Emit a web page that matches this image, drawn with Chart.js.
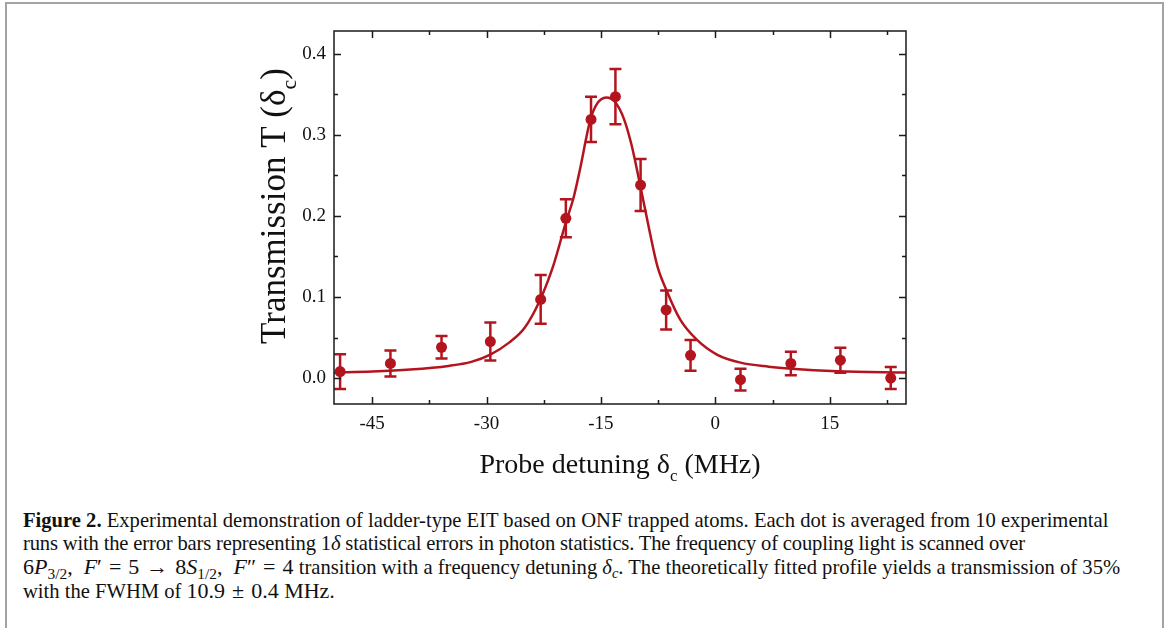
<!DOCTYPE html>
<html>
<head>
<meta charset="utf-8">
<script src="https://cdn.jsdelivr.net/npm/chart.js@4.4.1/dist/chart.umd.min.js"></script>
<style>
  html, body { margin: 0; padding: 0; background: #fff; }
  body { width: 1168px; height: 628px; position: relative; overflow: hidden; }
  #frame { position: absolute; left: 5px; top: 2px; width: 1155px; height: 660px; border: 2px solid #a3a3a3; }
  #chart { position: absolute; left: 0; top: 0; }
  #caption { position: absolute; left: 23px; top: 509px; font-family: "Liberation Serif", serif; font-size: 20.6px; line-height: 23px; color: #111; white-space: nowrap; }
  #caption sub { font-size: 0.7em; vertical-align: -0.3em; line-height: 0; }
  .tight { letter-spacing: -0.17px; }
  .m { font-size: 22px; }
  .op { margin: 0 7px; }
</style>
</head>
<body>
<div id="frame"></div>
<canvas id="chart" width="1168" height="490"></canvas>
<div id="caption">
  <b>Figure 2.</b> Experimental demonstration of ladder-type EIT based on ONF trapped atoms. Each dot is averaged from 10 experimental<br>
  <span class="tight">runs with the error bars representing 1<i>δ</i> statistical errors in photon statistics. The frequency of coupling light is scanned over</span><br>
  <span class="m">6<i>P</i><sub>3/2</sub>,&nbsp; <i>F</i>′<span class="op">=</span>5<span class="op">→</span>8<i>S</i><sub>1/2</sub>,&nbsp; <i>F</i>″<span class="op">=</span>4</span> transition with a frequency detuning <i>δ<sub>c</sub></i>. The theoretically fitted profile yields a transmission of 35%<br>
  with the FWHM of <span class="m">10.9<span class="op">±</span>0.4 MHz</span>.
</div>
<script>
// measured points (MHz, transmission) with 1-delta error
const detuning = [-49.2, -42.6, -35.9, -29.5, -22.9, -19.6, -16.3, -13.1, -9.8, -6.45, -3.25, 3.3, 9.9, 16.4, 23.0];
const transmission = [0.008, 0.018, 0.038, 0.045, 0.097, 0.197, 0.319, 0.347, 0.238, 0.084, 0.028, -0.002, 0.018, 0.022, 0.000];
const errorBar = [0.0215, 0.016, 0.014, 0.0235, 0.03, 0.0235, 0.028, 0.034, 0.032, 0.024, 0.019, 0.0135, 0.0145, 0.0155, 0.0135];

// fitted profile
const fitDetuning = [-50, -45, -40, -35, -32, -29.5, -27, -25, -23, -21.2, -19.6, -18.6, -17.8, -16.4, -15.6, -14.3, -13.2, -12, -11, -9.9, -8.6, -7.6, -6.4, -4.6, -2.4, 0.2, 3.3, 7, 10, 16, 25];
const fitTransmission = [0.0066, 0.008, 0.0105, 0.015, 0.02, 0.029, 0.044, 0.062, 0.096, 0.14, 0.192, 0.222, 0.255, 0.318, 0.337, 0.346, 0.341, 0.32, 0.288, 0.24, 0.18, 0.138, 0.108, 0.072, 0.047, 0.029, 0.019, 0.014, 0.0115, 0.0085, 0.0067];

const xTicks = [-45, -30, -15, 0, 15];
const xTickLabels = ['-45', '-30', '-15', '0', '15'];
const xMinorTicks = [-37.5, -22.5, -7.5, 7.5, 22.5];
const yTicks = [0, 0.1, 0.2, 0.3, 0.4];
const yTickLabels = ['0.0', '0.1', '0.2', '0.3', '0.4'];
const yMinorTicks = [0.05, 0.15, 0.25, 0.35];

const red = '#b3151f';
const serif = '"Liberation Serif", "Times New Roman", serif';

// error bars with caps
const errorBars = {
    id: 'errorBars',
    afterDatasetsDraw(chart) {
        const ctx = chart.ctx;
        const x = chart.scales.x, y = chart.scales.y;
        ctx.save();
        ctx.strokeStyle = red;
        ctx.lineWidth = 2.5;
        for (let i = 0; i < detuning.length; i++) {
            const px = x.getPixelForValue(detuning[i]);
            const top = y.getPixelForValue(transmission[i] + errorBar[i]);
            const bot = y.getPixelForValue(transmission[i] - errorBar[i]);
            ctx.beginPath();
            ctx.moveTo(px, top); ctx.lineTo(px, bot);
            ctx.moveTo(px - 6, top); ctx.lineTo(px + 6, top);
            ctx.moveTo(px - 6, bot); ctx.lineTo(px + 6, bot);
            ctx.stroke();
        }
        ctx.restore();
    }
};

// box, inward ticks on all sides, axis titles with subscripts
const frameAxes = {
    id: 'frameAxes',
    afterDraw(chart) {
        const ctx = chart.ctx;
        const a = chart.chartArea;
        const x = chart.scales.x, y = chart.scales.y;
        ctx.save();
        ctx.strokeStyle = '#1a1a1a';
        ctx.lineWidth = 1.5;
        ctx.strokeRect(a.left, a.top, a.right - a.left, a.bottom - a.top);
        ctx.beginPath();
        const tickX = (v, len) => {
            const px = Math.round(x.getPixelForValue(v)) + 0.5;
            ctx.moveTo(px, a.bottom); ctx.lineTo(px, a.bottom - len);
            ctx.moveTo(px, a.top); ctx.lineTo(px, a.top + len);
        };
        const tickY = (v, len) => {
            const py = Math.round(y.getPixelForValue(v)) + 0.5;
            ctx.moveTo(a.left, py); ctx.lineTo(a.left + len, py);
            ctx.moveTo(a.right, py); ctx.lineTo(a.right - len, py);
        };
        xTicks.forEach(v => tickX(v, 7));
        xMinorTicks.forEach(v => tickX(v, 4));
        yTicks.forEach(v => tickY(v, 7));
        yMinorTicks.forEach(v => tickY(v, 4));
        ctx.stroke();

        ctx.fillStyle = '#111';
        ctx.textBaseline = 'alphabetic';
        const drawTitle = (pre, sub, post, cx, cy, size) => {
            const big = size + 'px ' + serif;
            const small = Math.round(size * 0.62) + 'px ' + serif;
            ctx.font = big;
            const w1 = ctx.measureText(pre).width;
            const w3 = ctx.measureText(post).width;
            ctx.font = small;
            const w2 = ctx.measureText(sub).width;
            let sx = cx - (w1 + w2 + w3) / 2;
            ctx.font = big; ctx.fillText(pre, sx, cy); sx += w1;
            ctx.font = small; ctx.fillText(sub, sx, cy + size * 0.3); sx += w2;
            ctx.font = big; ctx.fillText(post, sx, cy);
        };
        drawTitle('Probe detuning δ', 'c', ' (MHz)', (a.left + a.right) / 2, 473, 28);
        ctx.save();
        ctx.translate(285, 206);
        ctx.rotate(-Math.PI / 2);
        drawTitle('Transmission T (δ', 'c', ')', 0, 0, 35);
        ctx.restore();
        ctx.restore();
    }
};

new Chart(document.getElementById('chart'), {
    type: 'scatter',
    data: {
        datasets: [{
            data: fitDetuning.map((v, i) => ({ x: v, y: fitTransmission[i] })),
            showLine: true,
            borderColor: red,
            borderWidth: 2.5,
            pointRadius: 0,
            cubicInterpolationMode: 'monotone',
            fill: false
        }, {
            data: detuning.map((v, i) => ({ x: v, y: transmission[i] })),
            backgroundColor: red,
            borderWidth: 0,
            pointRadius: 5.5
        }]
    },
    options: {
        responsive: false,
        animation: false,
        layout: { padding: { left: 0, right: 262, top: 31, bottom: 0 } },
        plugins: { legend: { display: false }, tooltip: { enabled: false } },
        scales: {
            x: {
                type: 'linear',
                min: -50,
                max: 25,
                afterBuildTicks: s => { s.ticks = xTicks.map(v => ({ value: v })); },
                afterFit: s => { s.height = 86; },
                grid: { display: false, drawTicks: false },
                border: { display: false },
                ticks: {
                    color: '#111',
                    padding: 9,
                    maxRotation: 0,
                    font: { family: serif, size: 19 },
                    callback: v => xTickLabels[xTicks.indexOf(v)]
                }
            },
            y: {
                type: 'linear',
                min: -0.032,
                max: 0.428,
                afterBuildTicks: s => { s.ticks = yTicks.map(v => ({ value: v })); },
                afterFit: s => { s.width = 334; },
                grid: { display: false, drawTicks: false },
                border: { display: false },
                ticks: {
                    color: '#111',
                    padding: 8,
                    font: { family: serif, size: 19 },
                    callback: v => yTickLabels[yTicks.indexOf(v)]
                }
            }
        }
    },
    plugins: [errorBars, frameAxes]
});
</script>
</body>
</html>
